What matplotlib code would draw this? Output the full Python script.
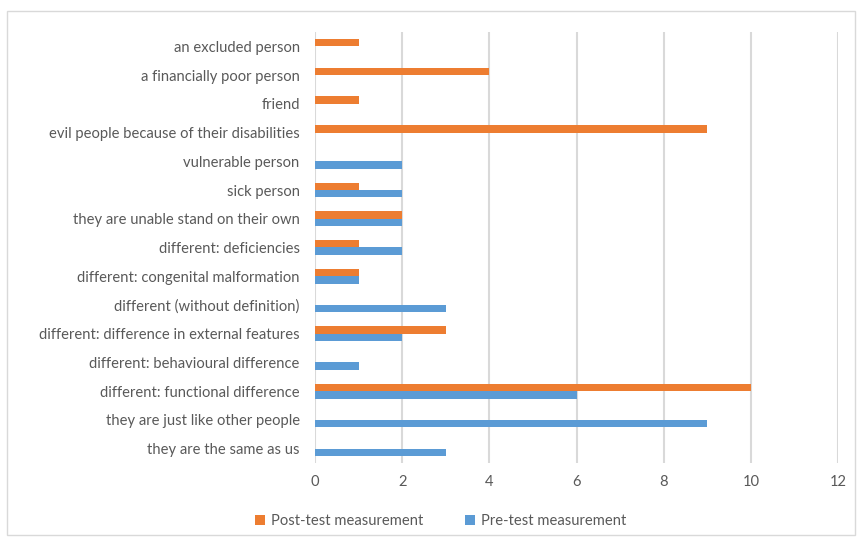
import numpy as np
import matplotlib.pyplot as plt
from matplotlib.patches import Rectangle

# categories listed bottom to top
categories = [
    "they are the same as us",
    "they are just like other people",
    "different: functional difference",
    "different: behavioural difference",
    "different: difference in external features",
    "different (without definition)",
    "different: congenital malformation",
    "different: deficiencies",
    "they are unable stand on their own",
    "sick person",
    "vulnerable person",
    "evil people because of their disabilities",
    "friend",
    "a financially poor person",
    "an excluded person",
]
pre_test = [3, 9, 6, 1, 2, 3, 1, 2, 2, 2, 2, 0, 0, 0, 0]
post_test = [0, 0, 10, 0, 3, 0, 1, 1, 2, 1, 0, 9, 1, 4, 1]

ORANGE = "#ED7D31"
BLUE = "#5B9BD5"
TEXT = "#595959"
GRID = "#D9D9D9"

plt.rcParams["font.family"] = ["Lato", "DejaVu Sans"]

fig = plt.figure(figsize=(8.59, 5.42), dpi=100)
ax = fig.add_axes([0.3667, 0.1458, 0.609, 0.7952])

y = np.arange(len(categories))
h = 0.26
ax.barh(y - h / 2, pre_test, height=h, color=BLUE, label="Pre-test measurement", zorder=3)
ax.barh(y + h / 2, post_test, height=h, color=ORANGE, label="Post-test measurement", zorder=3)

ax.set_xlim(0, 12)
ax.set_ylim(-0.5, len(categories) - 0.5)
ax.set_xticks(range(0, 13, 2))
ax.set_yticks(y)
ax.set_yticklabels(categories)
ax.tick_params(axis="both", length=0, labelsize=10.6, colors=TEXT)
ax.tick_params(axis="y", pad=11)
ax.tick_params(axis="x", pad=9)
ax.xaxis.grid(True, color=GRID, linewidth=1.5, zorder=0)
for s in ax.spines.values():
    s.set_visible(False)

# legend below, post-test first
handles, labels = ax.get_legend_handles_labels()
fig.legend(handles[::-1], labels[::-1], loc="center", bbox_to_anchor=(0.513, 0.038),
           ncol=2, frameon=False, fontsize=10.6, labelcolor=TEXT,
           handlelength=0.7, handleheight=0.7, handletextpad=0.4, columnspacing=2.8)

# light outer border
fig.patches.append(Rectangle((0.008, 0.013), 0.987, 0.967, transform=fig.transFigure,
                             fill=False, edgecolor=GRID, linewidth=1))

fig.savefig("out.png", dpi=100)
